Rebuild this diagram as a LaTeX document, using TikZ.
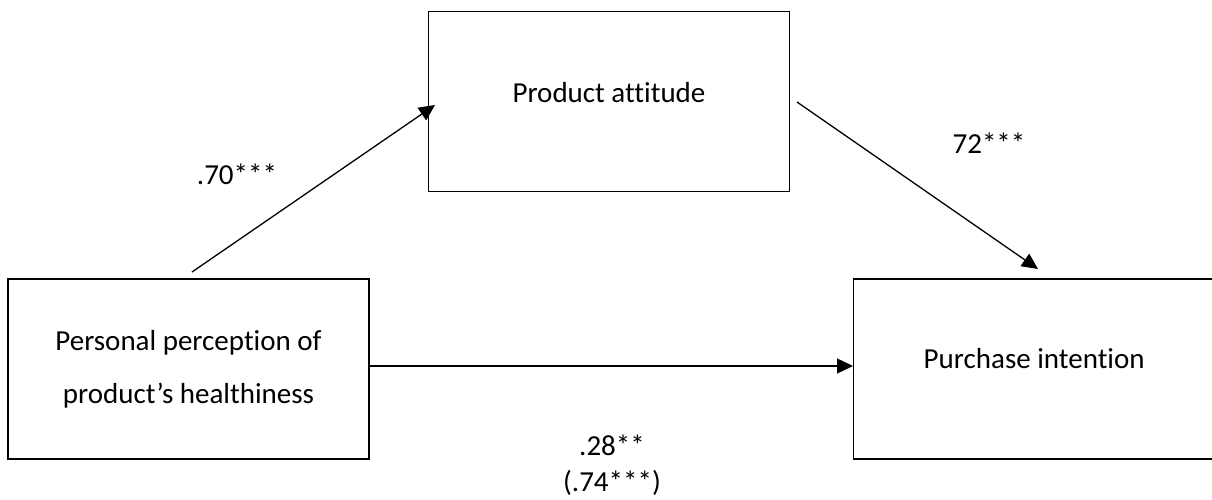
\documentclass[tikz,border=0pt]{standalone}
\usepackage{fontspec}
\setmainfont[Ligatures=NoCommon]{Carlito}
\usetikzlibrary{arrows.meta}
\begin{document}
\begin{tikzpicture}[x=1pt, y=1pt,
    box/.style={draw, line width=1.3pt, minimum width=361pt, minimum height=180pt, align=center, inner sep=0pt, font=\fontsize{29}{53}\selectfont},
    lbl/.style={font=\fontsize{29}{36}\selectfont, align=center, inner sep=0pt},
    arr/.style={line width=1.3pt, -{Triangle[length=16pt, width=15pt]}}]
    \useasboundingbox (0,0) rectangle (1212,499);

    % Variablen
    \node[box] (pers) at (188.5,130) {Personal perception of\\product’s healthiness};
    \node[box, text depth=18pt] (att) at (609,397.5) {Product attitude};
    \node[box, anchor=west, text depth=22pt] (pur) at (853,130) {Purchase intention};

    % Pfade
    \coordinate (a1s) at (192,227);
    \coordinate (a1e) at (435,394);
    \coordinate (a2s) at (797,397);
    \coordinate (a2e) at (1038,230);
    \draw[arr] (a1s) -- (a1e);
    \draw[arr] (a2s) -- (a2e);
    \draw[arr] ([yshift=3pt]pers.east) -- ([yshift=3pt]pur.west);

    % Koeffizienten
    \node[lbl] (ka) at (237,325) {.70***};
    \node[lbl] (kb) at (989,356) {72***};
    \node[lbl] (kc) at (612,34) {.28**\\(.74***)};
\end{tikzpicture}
\end{document}
